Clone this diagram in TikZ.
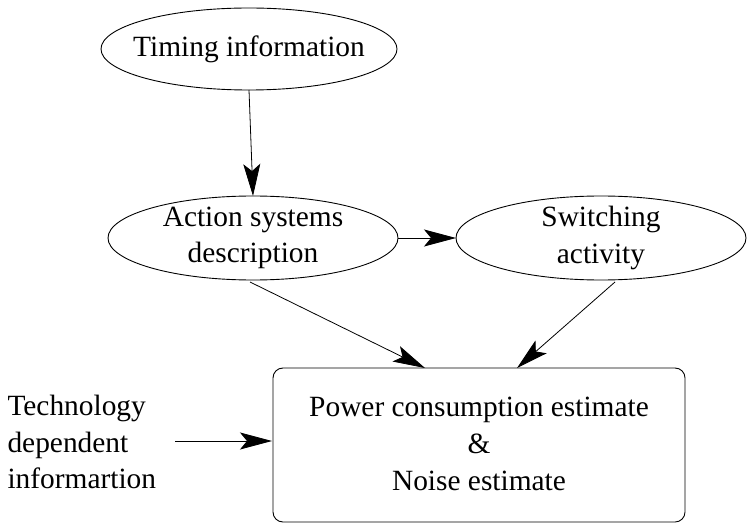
\documentclass[tikz,border=0pt]{standalone}
\usepackage{fontspec}
\setmainfont{Liberation Serif}
\usetikzlibrary{arrows.meta}
\begin{document}
\begin{tikzpicture}[x=1bp,y=-1bp,
  every node/.style={font=\fontsize{29.5}{36.5}\selectfont},
  arr/.style={line width=0.8bp,-{Stealth[length=32bp,width=17bp,inset=7bp]}},
  lbl/.style={align=center}]
\useasboundingbox (0,0) rectangle (749,527);
% data sources
\draw[line width=0.9bp] (249,49) ellipse [x radius=148, y radius=41];
\node[lbl] (timing) at (249,49) {Timing information};
\coordinate (timingS) at (249,90);
\draw[line width=0.9bp] (253,238) ellipse [x radius=145, y radius=42];
\node[lbl] (action) at (253,238) {Action systems\\description};
\coordinate (actionN) at (253,196);
\coordinate (actionE) at (398,238);
\coordinate (actionSE) at (250,282);
\draw[line width=0.9bp] (601,238) ellipse [x radius=145, y radius=42];
\node[lbl] (switch) at (601,238) {Switching\\activity};
\coordinate (switchW) at (456,238);
\coordinate (switchS) at (615,282);
% estimator box
\draw[line width=0.9bp,rounded corners=10] (273,368) rectangle (685,522);
\node[lbl] (power) at (479,444) {Power consumption estimate\\[1pt]\&\\[1pt]Noise estimate};
\coordinate (powerA) at (425,368);
\coordinate (powerB) at (517,368);
\coordinate (powerW) at (272,441);
% technology input
\node[align=left,anchor=west] (tech) at (4,442) {Technology\\dependent\\informartion};
\coordinate (techE) at (175,441);
% connectors
\draw[arr] (timingS) -- (actionN);
\draw[arr] (actionE) -- (switchW);
\draw[arr] (actionSE) -- (powerA);
\draw[arr] (switchS) -- (powerB);
\draw[arr] (techE) -- (powerW);
\end{tikzpicture}
\end{document}
